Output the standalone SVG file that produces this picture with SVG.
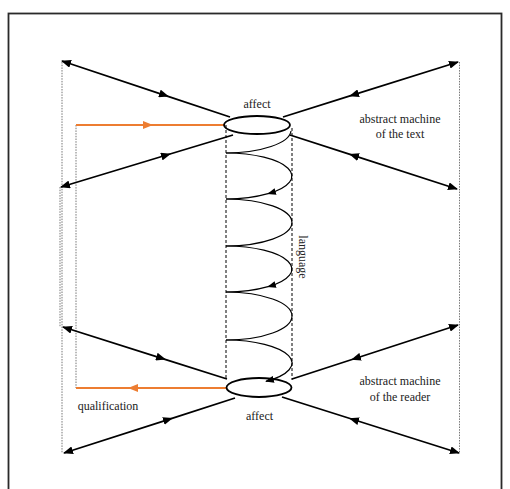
<svg xmlns="http://www.w3.org/2000/svg" width="510" height="489" viewBox="0 0 510 489">
  <style>
    .frame { fill: none; stroke: #2a2a2a; stroke-width: 1.8; }
    .arrow { fill: none; stroke: #000; stroke-width: 1.8; marker-start: url(#tip); marker-mid: url(#tip); }
    .orange { fill: none; stroke: #ED7D31; stroke-width: 1.8; marker-mid: url(#tipOrange); }
    .guide { fill: none; stroke: #666; stroke-width: 0.9; stroke-dasharray: 1.5 1.2; }
    .cyl { fill: none; stroke: #000; stroke-width: 1; stroke-dasharray: 3 2; }
    .ring { fill: none; stroke: #000; stroke-width: 1.8; }
    .helix { fill: none; stroke: #000; stroke-width: 1.2; }
    .label { font-family: "Liberation Serif", "Times New Roman", serif; font-size: 12px; fill: #222; text-anchor: middle; }
  </style>
  <defs>
    <marker id="tip" viewBox="0 0 10 8" refX="9" refY="4" markerWidth="10" markerHeight="8" markerUnits="userSpaceOnUse" orient="auto-start-reverse">
      <path d="M0,0 L10,4 L0,8 Z" fill="#000"/>
    </marker>
    <marker id="tipOrange" viewBox="0 0 10 8" refX="5" refY="4" markerWidth="10" markerHeight="8" markerUnits="userSpaceOnUse" orient="auto">
      <path d="M0,0 L10,4 L0,8 Z" fill="#ED7D31"/>
    </marker>
    <marker id="tipSmall" viewBox="0 0 10 8" refX="9" refY="4" markerWidth="9" markerHeight="7" markerUnits="userSpaceOnUse" orient="auto">
      <path d="M0,0 L10,4 L0,8 Z" fill="#000"/>
    </marker>
  </defs>

  <rect class="frame" x="8.5" y="13.5" width="493" height="490"/>

  <g id="connectors">
    <!-- dotted guides on the outer sides -->
    <line class="guide" x1="62" y1="62" x2="62" y2="453"/>
    <line class="guide" x1="60" y1="187" x2="60" y2="327"/>
    <line class="guide" x1="76" y1="125" x2="76" y2="388"/>
    <line class="guide" x1="459.5" y1="62" x2="459.5" y2="453"/>

    <!-- double-headed rays from the upper ring -->
    <path class="arrow" d="M62,61 L168,96.3 L230,117"/>
    <path class="arrow" d="M61,187 L170,154 L233,135"/>
    <path class="arrow" d="M458,62 L350,95.9 L283,117"/>
    <path class="arrow" d="M457,189 L350,154.4 L290,135"/>

    <!-- double-headed rays from the lower ring -->
    <path class="arrow" d="M63,327 L165,359.3 L227,379"/>
    <path class="arrow" d="M64,453 L172,418.3 L235,398"/>
    <path class="arrow" d="M458,325 L352,359.5 L292,379"/>
    <path class="arrow" d="M459,453 L350,418.5 L282,397"/>

    <!-- qualification loop -->
    <path class="orange" d="M76,125 L148,125 L224,125"/>
    <path class="orange" d="M226,388 L133,388 L76,388"/>
  </g>

  <g id="language">
    <line class="cyl" x1="226" y1="125" x2="226" y2="379"/>
    <line class="cyl" x1="292" y1="128" x2="292" y2="380"/>
    <!-- spiral running down the cylinder: half-ellipse turns, rx 66 -->
    <path class="helix" d="M291,131 A66,23 0 0 1 226,153"/>
    <path class="helix" d="M226,153 A66,23 0 0 1 268,193.7" marker-end="url(#tipSmall)"/>
    <path class="helix" d="M268,193.7 A66,23 0 0 1 226,199"/>
    <path class="helix" d="M226,199 A66,23.5 0 0 1 226,246"/>
    <path class="helix" d="M226,246 A66,23 0 0 1 268,286.7" marker-end="url(#tipSmall)"/>
    <path class="helix" d="M268,286.7 A66,23 0 0 1 226,292"/>
    <path class="helix" d="M226,292 A66,24 0 0 1 226,340"/>
    <path class="helix" d="M226,340 A66,23 0 0 1 266,381.3" marker-end="url(#tipSmall)"/>
    <text class="label" transform="translate(299,257) rotate(90)">language</text>
  </g>

  <g id="affect-top">
    <ellipse class="ring" cx="257" cy="125" rx="33" ry="9"/>
    <text class="label" x="257" y="108">affect</text>
  </g>

  <g id="affect-bottom">
    <ellipse class="ring" cx="259" cy="387.5" rx="32.5" ry="9.5"/>
    <text class="label" x="259.5" y="420">affect</text>
  </g>

  <g id="machine-text">
    <text class="label" x="400" y="123">abstract machine</text>
    <text class="label" x="400" y="138">of the text</text>
  </g>

  <g id="machine-reader">
    <text class="label" x="400" y="385">abstract machine</text>
    <text class="label" x="400" y="401">of the reader</text>
  </g>

  <g id="qualification">
    <text class="label" x="108" y="410">qualification</text>
  </g>
</svg>
